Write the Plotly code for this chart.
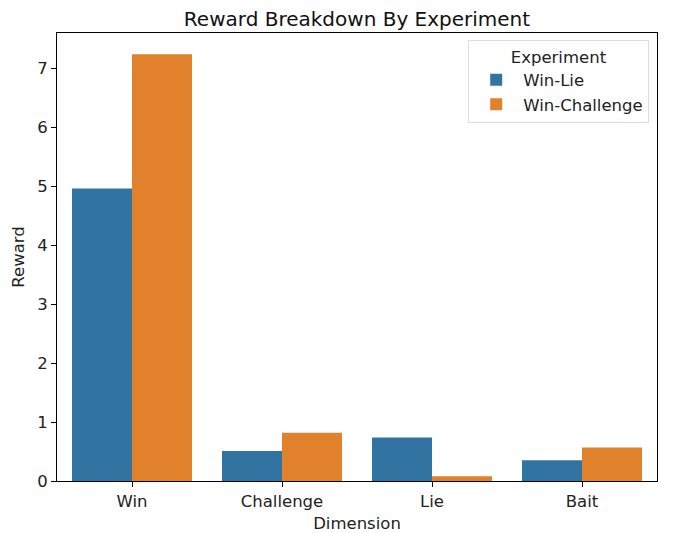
import plotly.graph_objects as go

categories = ["Win", "Challenge", "Lie", "Bait"]
win_lie = [4.96, 0.51, 0.74, 0.35]
win_challenge = [7.24, 0.82, 0.08, 0.57]
series_names = ["Win-Lie", "Win-Challenge"]
colors = ["#3274a1", "#e1812c"]

fig = go.Figure()
for name, vals, c in zip(series_names, [win_lie, win_challenge], colors):
    fig.add_trace(go.Bar(x=categories, y=vals, name=name, marker=dict(color=c, line=dict(width=0))))

font = "DejaVu Sans"
fs = 16.5
fig.update_layout(
    width=665, height=525,
    margin=dict(l=49, r=16, t=25, b=52, autoexpand=False),
    paper_bgcolor="white", plot_bgcolor="white",
    font=dict(family=font, size=fs, color="#222"),
    title=dict(text="Reward Breakdown By Experiment", x=0.5, xref="paper", xanchor="center",
               yref="container", y=1, yanchor="top", pad=dict(t=4, b=0),
               font=dict(size=20, color="#111")),
    barmode="group", bargap=0.2, bargroupgap=0,
    legend=dict(
        title=dict(text="Experiment", side="top center", font=dict(size=fs)),
        x=0.987, y=0.984, xanchor="right", yanchor="top",
        bgcolor="rgba(255,255,255,0.8)", bordercolor="#ddd", borderwidth=1,
        font=dict(size=fs), tracegroupgap=0, itemwidth=44,
    ),
    xaxis=dict(
        title=dict(text="Dimension", font=dict(size=fs), standoff=10),
        range=[-0.5, 3.5], showline=True, linecolor="black", linewidth=1, mirror=True,
        ticks="outside", ticklen=5, tickcolor="black", showgrid=False,
        ticklabelstandoff=0, automargin=False,
    ),
    yaxis=dict(
        title=dict(text="Reward", font=dict(size=fs), standoff=8),
        range=[0, 7.6], dtick=1, showline=True, linecolor="black", linewidth=1, mirror=True,
        ticks="outside", ticklen=5, tickcolor="black", showgrid=False, zeroline=False,
        automargin=False,
    ),
)

fig.write_html("out.html")
